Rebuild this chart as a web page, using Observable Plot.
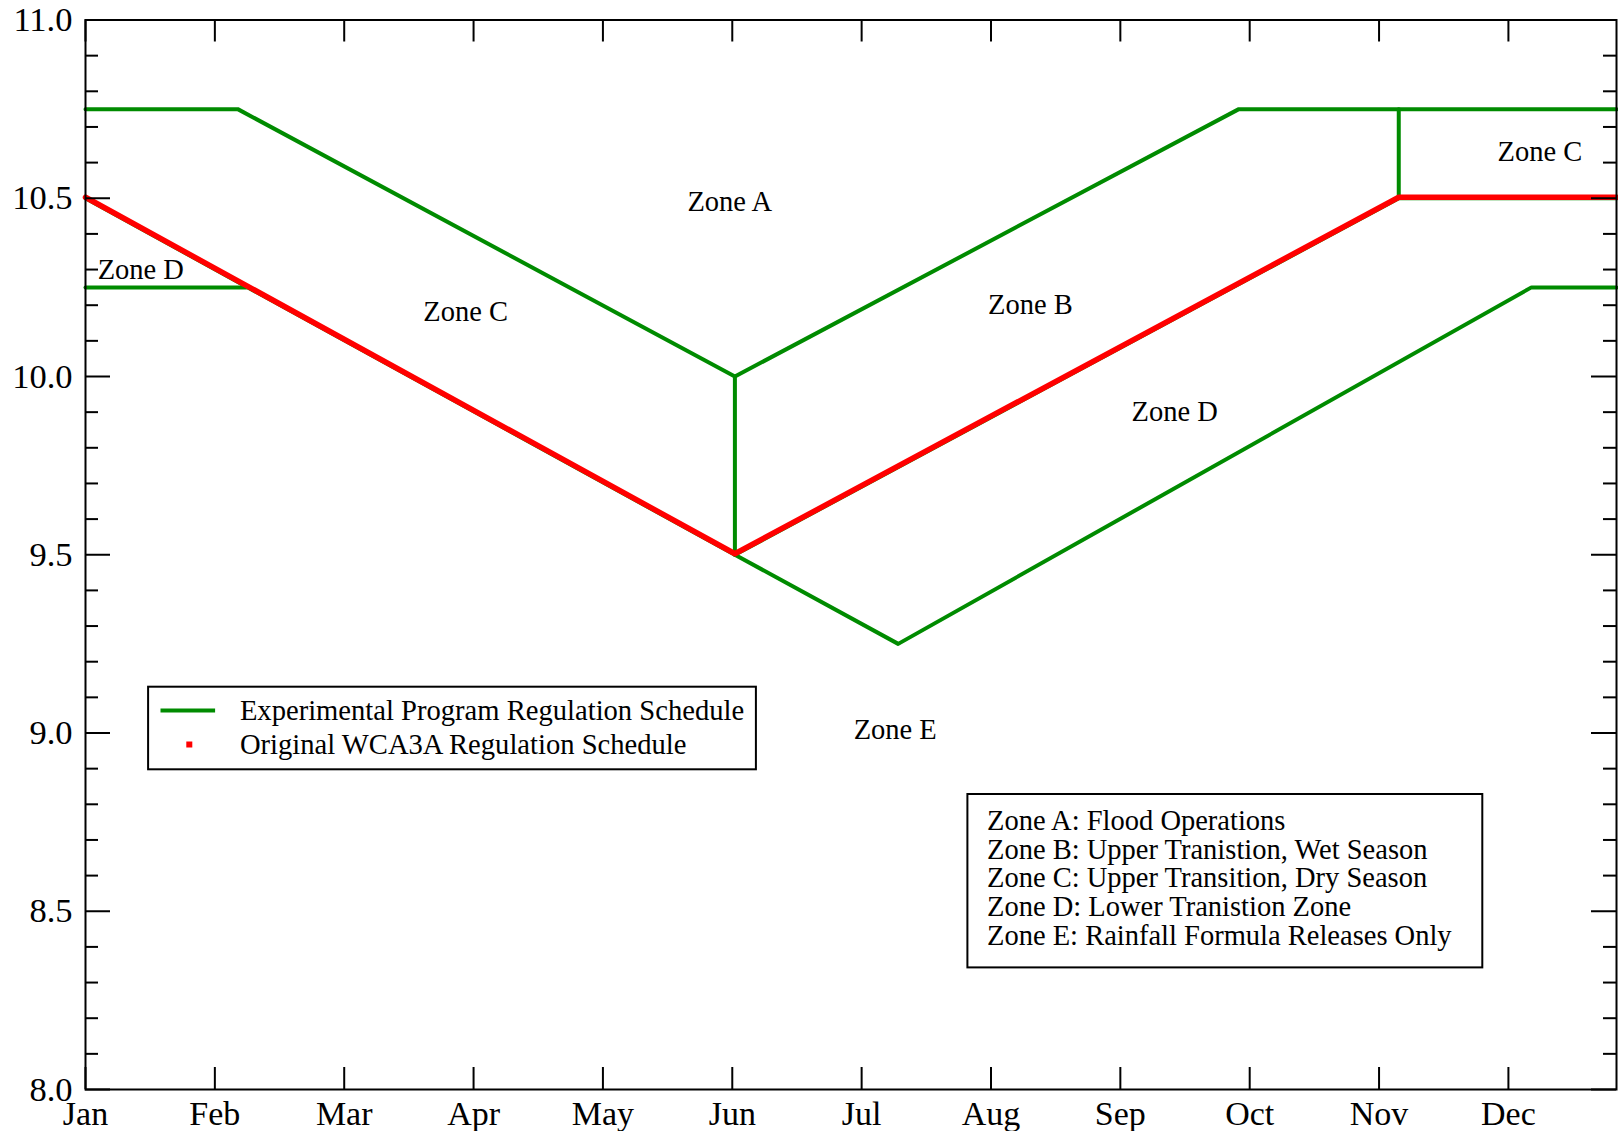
<!DOCTYPE html>
<html>
<head>
<meta charset="utf-8">
<script src="https://cdn.jsdelivr.net/npm/d3@7"></script>
<script src="https://cdn.jsdelivr.net/npm/@observablehq/plot@0.6"></script>
<style>
  html, body { margin: 0; padding: 0; background: #fff; }
  #chart { width: 1618px; height: 1131px; }
</style>
</head>
<body>
<div id="chart"></div>
<script>
// ---- data ----
const months = ["Jan","Feb","Mar","Apr","May","Jun","Jul","Aug","Sep","Oct","Nov","Dec"];
const monthStart = months.map((m, i) => i * 365 / 12);   // day-of-year of each month tick
const yMajorTicks = [8.0, 8.5, 9.0, 9.5, 10.0, 10.5, 11.0];
const yMinorTicks = [8.1,8.2,8.3,8.4,8.6,8.7,8.8,8.9,9.1,9.2,9.3,9.4,9.6,9.7,9.8,9.9,
                     10.1,10.2,10.3,10.4,10.6,10.7,10.8,10.9];

// Experimental Program Regulation Schedule (green), broken into segments
const expSegment = ["top","top","top","top","top",
                    "lowerLeft","lowerLeft",
                    "bottom","bottom","bottom","bottom","bottom",
                    "junStep","junStep",
                    "middle","middle","middle",
                    "novStep","novStep"];
const expDay   = [0, 35.8, 152.7, 271.2, 360,
                  0, 37.8,
                  0, 152.7, 191.1, 340.0, 360,
                  152.7, 152.7,
                  152.7, 308.8, 360,
                  308.8, 308.8];
const expStage = [10.75, 10.75, 10.0, 10.75, 10.75,
                  10.25, 10.25,
                  10.5, 9.5, 9.25, 10.25, 10.25,
                  9.5, 10.0,
                  9.5, 10.5, 10.5,
                  10.5, 10.75];

// Original WCA3A Regulation Schedule (red)
const origDay   = [0, 152.7, 308.8, 360];
const origStage = [10.5, 9.5, 10.5, 10.5];

// Zone labels
const zoneLabel = ["Zone A","Zone B","Zone C","Zone C","Zone D","Zone D","Zone E"];
const zoneDay   = [151.5, 222.2, 89.4, 342.0, 13.0, 256.1, 190.4];
const zoneStage = [10.49, 10.20, 10.18, 10.63, 10.30, 9.90, 9.01];

const seriesNames = ["Experimental Program Regulation Schedule", "Original WCA3A Regulation Schedule"];
const zoneDescriptions = [
  "Zone A: Flood Operations",
  "Zone B: Upper Tranistion, Wet Season",
  "Zone C: Upper Transition, Dry Season",
  "Zone D: Lower Tranistion Zone",
  "Zone E: Rainfall Formula Releases Only"
];

// ---- layout ----
const width = 1618, height = 1131;
const mL = 85, mR = 2, mT = 19.5, mB = 42;
const W = width - mL - mR, H = height - mT - mB;
const GREEN = "rgb(0,139,0)", RED = "#ff0000";
const FONT = "'Liberation Serif', 'Times New Roman', serif";

const expTable = expDay.map((d, i) => ({segment: expSegment[i], day: d, stage: expStage[i]}));
const origTable = origDay.map((d, i) => ({day: d, stage: origStage[i]}));
const zoneTable = zoneLabel.map((z, i) => ({label: z, day: zoneDay[i], stage: zoneStage[i]}));

// legend geometry (pixels relative to the frame)
const box1 = {l: 147.6, r: 755.4, t: 686.2, b: 768.8};
const box2 = {l: 966.9, r: 1481.8, t: 793.5, b: 966.9};
const inset = (l, r, t, b) => ({insetLeft: l - mL, insetRight: (width - mR) - r, insetTop: t - mT, insetBottom: (height - mB) - b});

const plot = Plot.plot({
  width, height,
  marginLeft: mL, marginRight: mR, marginTop: mT, marginBottom: mB,
  style: {fontFamily: FONT, fontSize: "33px", background: "#fff", color: "#000"},
  x: {type: "linear", domain: [0, 360], axis: null},
  y: {type: "linear", domain: [8, 11], axis: null},
  marks: [
    Plot.line(expTable, {x: "day", y: "stage", z: "segment", stroke: GREEN, strokeWidth: 4}),
    Plot.line(origTable, {x: "day", y: "stage", stroke: RED, strokeWidth: 5.5, dy: -1}),
    Plot.text(zoneTable, {x: "day", y: "stage", text: "label", fontSize: 28.5, fill: "#000", textAnchor: "middle", lineAnchor: "middle"}),
    // legend 1
    Plot.frame({...inset(box1.l, box1.r, box1.t, box1.b), fill: "#fff", stroke: "#000", strokeWidth: 2}),
    Plot.frame({...inset(160, 214.6, 708, 712), fill: GREEN, stroke: "none"}),
    Plot.frame({...inset(185.8, 191.8, 741, 747), fill: RED, stroke: "none"}),
    Plot.text([seriesNames.join("\n")], {frameAnchor: "top-left", dx: 239.4 - mL, dy: 725.5 - mT,
      textAnchor: "start", lineAnchor: "middle", lineHeight: 34 / 28.6, fontSize: 28.6, fill: "#000"}),
    // legend 2
    Plot.frame({...inset(box2.l, box2.r, box2.t, box2.b), fill: "#fff", stroke: "#000", strokeWidth: 2}),
    Plot.text([zoneDescriptions.join("\n")], {frameAnchor: "top-left", dx: 986.5 - mL, dy: 877.8 - mT,
      textAnchor: "start", lineAnchor: "middle", lineHeight: 28.6 / 28.5, fontSize: 28.5, fill: "#000"}),
    // inward ticks
    Plot.ruleY(yMajorTicks, {insetRight: W - 25, stroke: "#000", strokeWidth: 2}),
    Plot.ruleY(yMajorTicks, {insetLeft: W - 25, stroke: "#000", strokeWidth: 2}),
    Plot.ruleY(yMinorTicks, {insetRight: W - 13, stroke: "#000", strokeWidth: 2}),
    Plot.ruleY(yMinorTicks, {insetLeft: W - 13, stroke: "#000", strokeWidth: 2}),
    Plot.ruleX(monthStart, {insetTop: H - 22, stroke: "#000", strokeWidth: 2}),
    Plot.ruleX(monthStart, {insetBottom: H - 22, stroke: "#000", strokeWidth: 2}),
    Plot.frame({stroke: "#000", strokeWidth: 2}),
    // tick labels
    Plot.axisY(yMajorTicks, {tickSize: 0, tickPadding: 13, tickFormat: d3.format(".1f"), label: null, fontSize: 34.5}),
    Plot.axisX(monthStart, {tickSize: 0, tickPadding: 11, tickFormat: d => months[Math.round(d * 12 / 365)], label: null, fontSize: 34})
  ]
});
document.getElementById("chart").appendChild(plot);
</script>
</body>
</html>
